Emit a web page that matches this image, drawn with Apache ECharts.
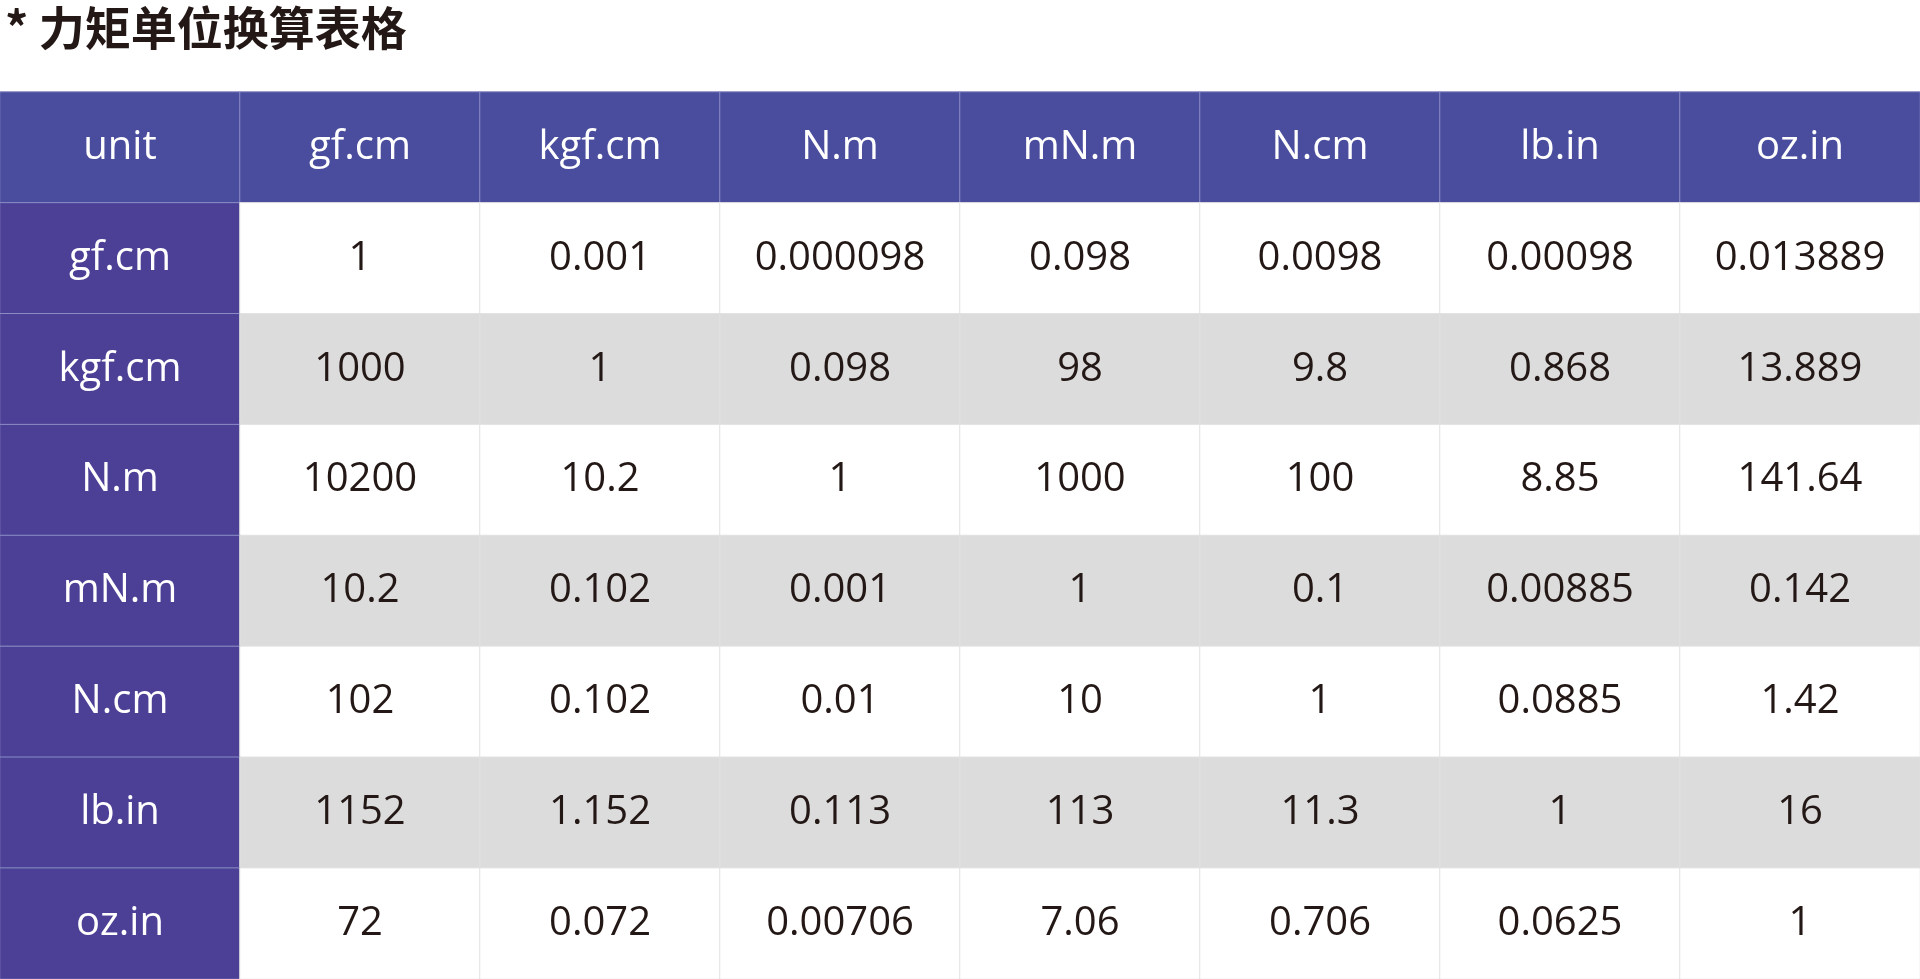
<!DOCTYPE html>
<html><head><meta charset="utf-8">
<script src="https://cdn.jsdelivr.net/npm/echarts@6/dist/echarts.min.js"></script>
<style>html,body{margin:0;padding:0;background:#fff}#main{width:1920px;height:979px}</style>
</head><body><div id="main"></div>
<script>
var chart = echarts.init(document.getElementById('main'));

var units = ['gf.cm', 'kgf.cm', 'N.m', 'mN.m', 'N.cm', 'lb.in', 'oz.in'];
var headers = ['unit'].concat(units);
// one row per source unit, columns follow units
var rows = [
  ['1', '0.001', '0.000098', '0.098', '0.0098', '0.00098', '0.013889'],
  ['1000', '1', '0.098', '98', '9.8', '0.868', '13.889'],
  ['10200', '10.2', '1', '1000', '100', '8.85', '141.64'],
  ['10.2', '0.102', '0.001', '1', '0.1', '0.00885', '0.142'],
  ['102', '0.102', '0.01', '10', '1', '0.0885', '1.42'],
  ['1152', '1.152', '0.113', '113', '11.3', '1', '16'],
  ['72', '0.072', '0.00706', '7.06', '0.706', '0.0625', '1']
];

var headColor = '#4a4d9d', sideColor = '#4b4096', grey = '#dcdcdc';
var cells = [];
var table = [headers];
rows.forEach(function (r, i) { table.push([units[i]].concat(r)); });
table.forEach(function (r, y) {
  r.forEach(function (txt, x) {
    var bg = y === 0 ? headColor : (x === 0 ? sideColor : (y % 2 === 0 ? grey : '#fff'));
    var white = y === 0 || x === 0;
    cells.push({
      value: [x, y, 0],
      name: txt,
      itemStyle: { color: bg, borderColor: white ? '#8a8cc4' : '#e2e2e2', borderWidth: 1 },
      label: { color: white ? '#fff' : '#231815' }
    });
  });
});

var idx = [0, 1, 2, 3, 4, 5, 6, 7];

chart.setOption({
  animation: false,
  title: {
    text: '* 力矩单位换算表格',
    left: 0, top: 0,
    textStyle: { fontFamily: 'Noto Sans CJK SC', fontWeight: 'bold', fontSize: 46, color: '#231815' }
  },
  grid: { left: 0, right: 0, top: 92, bottom: 0 },
  xAxis: { type: 'category', data: idx, show: false },
  yAxis: { type: 'category', data: idx, inverse: true, show: false },
  series: [{
    type: 'heatmap',
    data: cells,
    label: {
      show: true,
      fontFamily: 'Open Sans',
      fontSize: 40,
      formatter: function (p) { return p.name; }
    },
    emphasis: { disabled: true }
  }]
});
</script></body></html>
